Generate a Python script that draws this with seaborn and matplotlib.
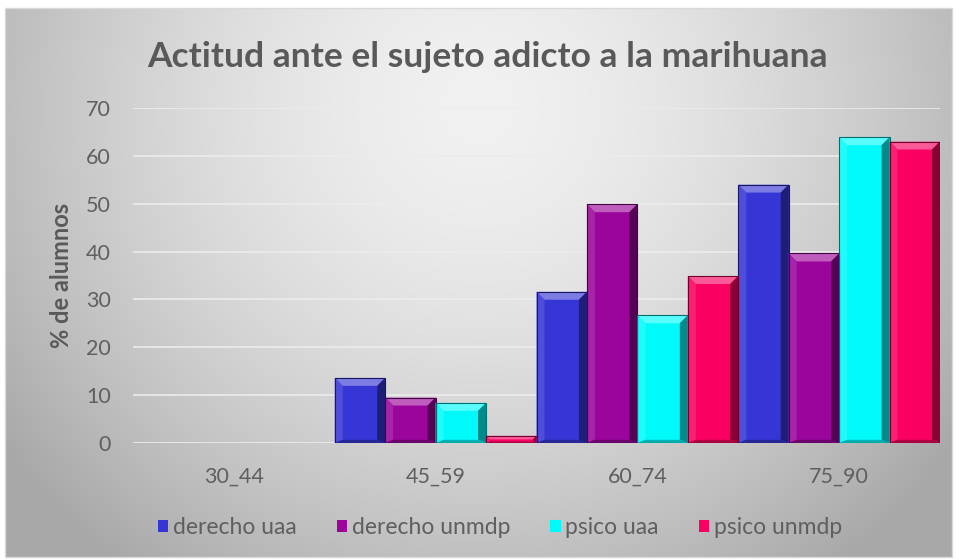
import numpy as np
import pandas as pd
import matplotlib
matplotlib.use("Agg")
import matplotlib.pyplot as plt
import seaborn as sns
from matplotlib.patches import Polygon, Rectangle
from matplotlib.colors import to_rgb

categories = ["30_44", "45_59", "60_74", "75_90"]
series = ["derecho uaa", "derecho unmdp", "psico uaa", "psico unmdp"]
derecho_uaa = [0, 13.6, 31.6, 54.0]
derecho_unmdp = [0, 9.5, 49.9, 39.6]
psico_uaa = [0, 8.4, 26.7, 63.9]
psico_unmdp = [0, 1.5, 34.9, 63.0]
colors = ["#3636d6", "#9b059b", "#00fafa", "#fa0060"]
yticks = [0, 10, 20, 30, 40, 50, 60, 70]

values = [derecho_uaa, derecho_unmdp, psico_uaa, psico_unmdp]
df = pd.DataFrame([
    {"cat": c, "serie": s, "val": v[i]}
    for s, v in zip(series, values) for i, c in enumerate(categories)
])

sns.set_theme(style="white")
plt.rcParams["font.family"] = ["Lato", "DejaVu Sans"]

W, H = 959, 560
fig = plt.figure(figsize=(W / 100, H / 100), dpi=100)
fig.patch.set_facecolor("white")

# background gradient
bg = fig.add_axes([0, 0, 1, 1], zorder=-10)
bg.set_axis_off()
yy, xx = np.mgrid[0:H, 0:W]
cx, cy = 0.5 * W, 0.18 * H
d = np.sqrt(((xx - cx) / (0.62 * W)) ** 2 + ((yy - cy) / (1.05 * H)) ** 2)
d = np.clip(d, 0, 1)
light, dark = 0.945, 0.66
g = light - (light - dark) * d ** 1.6
img = np.dstack([g, g, g])
bg.imshow(img, extent=[5, 952, 557, 8], origin="upper", aspect="auto")
bg.add_patch(Rectangle((5, 8), 947, 549, fill=False, edgecolor="#d9d9d9", lw=1))
bg.set_xlim(0, W)
bg.set_ylim(H, 0)

ax = fig.add_axes([133 / W, (H - 443) / H, (940 - 133) / W, (443 - 108) / H])
ax.patch.set_alpha(0)
sns.barplot(data=df, x="cat", y="val", hue="serie", palette=colors,
            width=1.0, gap=0, ax=ax, saturation=1, edgecolor="none",
            linewidth=0, legend=True, zorder=3)
ax.set_ylim(0, 70)
ax.set_xlim(-0.5, 3.5)
ax.set_yticks(yticks)
ax.yaxis.grid(True, color="#ececec", lw=1.2, zorder=0)
ax.xaxis.grid(False)
for s in ax.spines.values():
    s.set_visible(False)
ax.axhline(0, color="#e6e6e6", lw=1.5, zorder=2)
ax.tick_params(axis="both", length=0, labelsize=15.5, colors="#5f5f5f")
ax.tick_params(axis="y", pad=16)
ax.tick_params(axis="x", pad=17)
ax.set_xlabel("")
ax.set_ylabel("% de alumnos", fontsize=17, fontweight="bold", color="#595959", labelpad=9)

# bevel effect derived from bar patches
dxp = 4.0 / (940 - 133)
dyp = 70.0 / (443 - 108)
bars = [p for p in ax.patches if isinstance(p, Rectangle) and p.get_height() > 0]
def mix(c, t, k):
    c = np.array(to_rgb(c)); t = np.array(t)
    return tuple(c * (1 - k) + t * k)
for p in bars:
    x0, y0 = p.get_x(), p.get_y()
    w, h = p.get_width(), p.get_height()
    fc = p.get_facecolor()[:3]
    bx = min(8 * dxp, w / 3)
    by = min(8 * dyp, h / 2)
    sx = min(bx, by / dyp * dxp)
    x1, y1 = x0 + w, y0 + h
    top = Polygon([(x0, y1), (x1, y1), (x1 - sx, y1 - by), (x0 + sx, y1 - by)],
                  closed=True, facecolor=mix(fc, (1, 1, 1), 0.35), edgecolor="none", zorder=4)
    right = Polygon([(x1, y1), (x1, y0), (x1 - sx, y0 + by * 0.4), (x1 - sx, y1 - by)],
                    closed=True, facecolor=mix(fc, (0, 0, 0), 0.45), edgecolor="none", zorder=4)
    left = Polygon([(x0, y1), (x0, y0), (x0 + sx, y0 + by * 0.4), (x0 + sx, y1 - by)],
                   closed=True, facecolor=mix(fc, (1, 1, 1), 0.12), edgecolor="none", zorder=4)
    bottom = Polygon([(x0, y0), (x1, y0), (x1 - sx, y0 + by * 0.4), (x0 + sx, y0 + by * 0.4)],
                     closed=True, facecolor=mix(fc, (0, 0, 0), 0.3), edgecolor="none", zorder=4)
    for poly in (top, right, left, bottom):
        ax.add_patch(poly)
    ax.add_patch(Rectangle((x0, y0), w, h, fill=False, edgecolor=mix(fc, (0, 0, 0), 0.55),
                           lw=0.8, zorder=5))

handles, labels = ax.get_legend_handles_labels()
ax.legend_.remove()
fig.legend(handles, labels, loc="center", bbox_to_anchor=(500 / W, (H - 528) / H), ncol=4,
           frameon=False, fontsize=16.5, handlelength=0.45, handleheight=0.45,
           handletextpad=0.2, columnspacing=1.75, labelcolor="#5f5f5f")

fig.text(488 / W, (H - 57) / H, "Actitud ante el sujeto adicto a la marihuana",
         ha="center", va="center", fontsize=25.5, fontweight="bold", color="#595959")

fig.savefig("out.png", dpi=100)
